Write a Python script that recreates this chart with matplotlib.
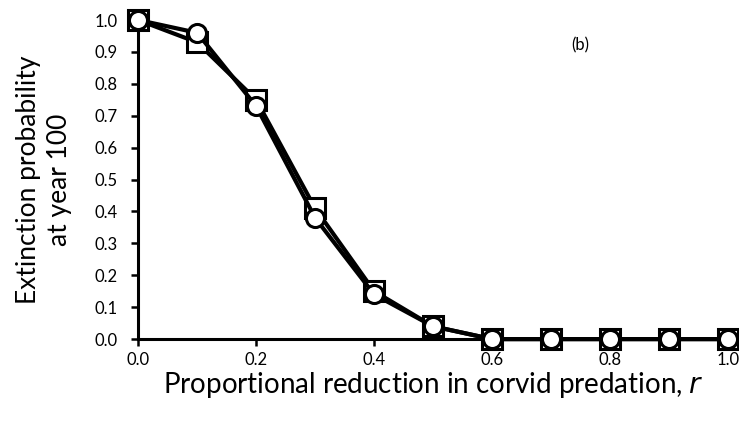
import matplotlib.pyplot as plt
import numpy as np

plt.rcParams['font.family'] = ['Lato', 'DejaVu Sans']

# proportional reduction in corvid predation
r = [0.0, 0.1, 0.2, 0.3, 0.4, 0.5, 0.6, 0.7, 0.8, 0.9, 1.0]
# extinction probability at year 100, two model variants
p_square = [1.0, 0.93, 0.75, 0.41, 0.15, 0.04, 0.0, 0.0, 0.0, 0.0, 0.0]
p_circle = [1.0, 0.96, 0.73, 0.38, 0.14, 0.04, 0.0, 0.0, 0.0, 0.0, 0.0]

fig = plt.figure(figsize=(7.39, 4.26), dpi=100)
ax = fig.add_axes([0.187, 0.204, 0.798, 0.749])

ax.plot(r, p_square, color='black', lw=3, marker='s', ms=14,
        mfc='white', mec='black', mew=2.2, clip_on=False, zorder=3)
ax.plot(r, p_circle, color='black', lw=3, marker='o', ms=13,
        mfc='white', mec='black', mew=2.2, clip_on=False, zorder=4)

ax.set_xlim(0, 1.0)
ax.set_ylim(0, 1.0)
ax.set_xticks(np.arange(0, 1.01, 0.2))
ax.set_yticks(np.arange(0, 1.01, 0.1))
ax.set_xticklabels(['0.0', '0.2', '0.4', '0.6', '0.8', '1.0'])
ax.set_yticklabels(['%.1f' % v for v in np.arange(0, 1.01, 0.1)])
ax.tick_params(labelsize=12, direction='out', length=5, width=1.8)
ax.tick_params(axis='y', pad=10)
ax.tick_params(axis='x', pad=4)

for side in ['top', 'right']:
    ax.spines[side].set_visible(False)
for side in ['left', 'bottom']:
    ax.spines[side].set_linewidth(2.2)

ax.set_xlabel('Proportional reduction in corvid predation, $r$', fontsize=20, labelpad=2)
ax.set_ylabel('Extinction probability\nat year 100', fontsize=19, labelpad=16,
              linespacing=1.3)
ax.text(0.75, 0.92, '(b)', fontsize=12, ha='center', va='center')

fig.savefig('out.png', dpi=100)
